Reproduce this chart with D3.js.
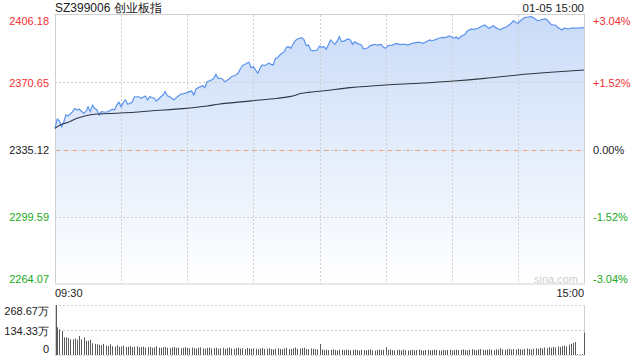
<!DOCTYPE html>
<html>
<head>
<meta charset="utf-8">
<script src="https://cdn.jsdelivr.net/npm/d3@7"></script>
<style>
  body { margin: 0; background: #fff; }
  svg { display: block; font-family: "Liberation Sans", Arial, sans-serif; }
</style>
</head>
<body>
<script>
// 价格线: 分钟序号 (0 = 09:30, 120 = 11:30/13:00, 240 = 15:00) 和点位
const priceMin = [0,1,2,3,4,5,6,8,9,10,11,13,14,15,16,17,18,19,20,21,23,24,26,27,28,29,30,31,32,33,35,36,38,39,41,42,43,45,46,48,49,50,51,52,54,55,57,59,60,62,63,64,65,67,68,69,71,72,73,74,75,76,77,79,80,82,83,84,85,87,88,89,90,92,93,94,95,97,98,99,100,101,102,104,105,106,107,108,109,110,112,113,114,115,116,117,119,120,121,122,123,124,125,127,128,129,130,131,133,134,135,136,137,139,140,142,143,145,146,148,149,150,151,153,155,156,159,160,162,163,165,167,168,170,171,173,174,176,177,179,180,181,182,183,184,186,187,189,190,192,193,195,196,197,198,199,200,202,203,205,206,207,208,209,210,211,213,214,216,217,218,219,220,222,223,224,225,226,227,228,230,231,233,234,236,237,240];
const price = [2346.3,2351.2,2350.2,2347.2,2349.8,2353.4,2352.8,2355.1,2356.9,2356.0,2356.4,2354.3,2355.1,2357.7,2355.1,2358.6,2356.9,2356.0,2353.4,2355.1,2354.8,2355.1,2356.4,2356.0,2358.6,2360.1,2357.7,2360.1,2361.3,2359.0,2360.1,2363.0,2363.0,2362.2,2363.4,2361.3,2363.0,2362.2,2360.7,2363.0,2363.9,2365.7,2363.5,2363.0,2361.3,2362.5,2364.3,2364.8,2365.3,2366.0,2363.9,2367.1,2367.8,2368.8,2367.8,2370.9,2371.8,2372.7,2374.9,2372.7,2372.7,2372.4,2370.9,2372.4,2373.6,2374.5,2375.4,2377.5,2379.4,2380.7,2381.2,2378.3,2378.9,2375.4,2378.0,2379.8,2379.4,2380.7,2380.1,2379.8,2383.3,2383.6,2385.1,2386.8,2389.1,2389.4,2388.6,2390.7,2392.6,2393.5,2394.2,2393.0,2390.0,2390.3,2387.7,2387.2,2387.7,2389.8,2389.1,2389.4,2388.1,2390.3,2393.0,2390.7,2392.4,2394.7,2392.1,2392.4,2393.5,2393.0,2390.7,2392.1,2391.2,2390.3,2388.2,2388.9,2390.0,2390.7,2390.3,2390.7,2389.1,2388.6,2390.0,2390.3,2391.2,2390.7,2390.7,2390.3,2391.2,2391.5,2391.8,2391.2,2391.8,2393.0,2392.6,2393.3,2393.9,2394.4,2394.2,2395.1,2394.4,2393.9,2394.7,2393.5,2394.7,2396.0,2397.7,2398.8,2398.6,2399.2,2400.0,2400.9,2400.0,2399.2,2400.0,2400.5,2399.5,2398.3,2399.2,2400.0,2400.9,2401.8,2403.2,2402.3,2401.8,2403.0,2404.8,2405.0,2405.3,2404.8,2403.9,2403.2,2403.4,2404.1,2403.9,2402.6,2401.3,2400.9,2400.9,2399.7,2398.3,2399.2,2398.8,2399.2,2399.2,2399.2,2399.5];

// 均价线
const avgMin = [0,3,6,10,14,20,28,36,43,58,69,74,89,101,107,112,115,121,134,150,165,181,195,210,225,240];
const avgPrice = [2346.3,2348.4,2349.5,2351.6,2353.0,2353.9,2354.3,2354.8,2355.5,2356.7,2358.1,2359.0,2360.8,2362.2,2363.2,2364.8,2365.3,2366.0,2367.8,2369.2,2370.1,2371.3,2372.7,2374.5,2375.9,2377.1];

// 成交量 (万), 每分钟一根
const volume = [
  268.67,149,138,129,95,95,91,84,84,89,82,102,84,95,77,77,82,63,60,58,
  55,52,60,50,48,58,47,45,52,44,46,50,43,45,48,42,44,47,41,43,
  45,40,42,44,39,41,46,40,38,42,44,39,37,41,43,38,40,36,39,42,
  38,36,40,37,35,39,41,36,34,38,40,35,37,39,34,36,38,33,37,40,
  35,33,37,39,34,36,32,38,35,33,36,34,31,35,37,33,34,36,32,30,
  34,36,33,31,35,38,33,32,36,40,34,35,37,39,33,31,35,34,32,30,
  59,
  30,27,29,26,28,31,27,25,29,28,26,30,27,25,28,29,26,24,28,27,
  25,28,30,26,24,27,29,26,28,42,27,30,26,24,27,28,25,29,26,24,
  26,28,25,27,29,26,24,27,28,25,26,29,27,25,24,28,26,27,29,25,
  27,29,26,28,30,27,25,29,31,28,26,30,32,28,27,29,31,28,26,30,
  29,37,30,28,31,33,29,32,30,34,31,29,33,35,32,30,34,36,33,38,
  35,40,37,42,39,44,41,46,43,48,50,47,55,60,65,70,
  4,3,5,
  120
];

const priceTicks = [2406.18, 2370.65, 2335.12, 2299.59, 2264.07];
const pctTicks = ["+3.04%", "+1.52%", "0.00%", "-1.52%", "-3.04%"];
const volTicks = [268.67, 134.33, 0];
const gridMin = [30, 60, 90, 120, 150, 180, 210];
const preClose = 2335.12;

const W = 640, H = 360;
const pLeft = 55, pRight = 584, pTop = 15, pBottom = 284;
const vTop = 305, vBottom = 355;

const x = d3.scaleLinear().domain([0, 240]).range([pLeft, pRight]);
const y = d3.scaleLinear().domain([2264.07, 2406.18]).range([pBottom, pTop]);
const yv = d3.scaleLinear().domain([0, 268.67]).range([vBottom, vTop]);

const svg = d3.select("body").append("svg").attr("width", W).attr("height", H);

// 渐变
const grad = svg.append("defs").append("linearGradient")
  .attr("id", "fill").attr("gradientUnits", "userSpaceOnUse")
  .attr("x1", 0).attr("y1", pTop).attr("x2", 0).attr("y2", pBottom);
grad.append("stop").attr("offset", 0).attr("stop-color", "#c9dbf8");
grad.append("stop").attr("offset", 1).attr("stop-color", "#ffffff");

const pts = priceMin.map((m, i) => [m, price[i]]);

svg.append("path")
  .datum(pts)
  .attr("fill", "url(#fill)")
  .attr("d", d3.area().x(d => x(d[0])).y0(pBottom).y1(d => y(d[1])));

// 网格
svg.selectAll(".vg").data(gridMin).enter().append("line")
  .attr("x1", d => Math.round(x(d)) + 0.5).attr("x2", d => Math.round(x(d)) + 0.5)
  .attr("y1", pTop).attr("y2", pBottom)
  .attr("stroke", "#cfcfcf").attr("stroke-dasharray", "2,2");

svg.selectAll(".hg").data([priceTicks[1], priceTicks[2], priceTicks[3]]).enter().append("line")
  .attr("x1", pLeft).attr("x2", pRight)
  .attr("y1", d => Math.round(y(d)) + 0.5).attr("y2", d => Math.round(y(d)) + 0.5)
  .attr("stroke", "#cfcfcf").attr("stroke-dasharray", "2,2");

svg.append("line")
  .attr("x1", pLeft).attr("x2", pRight)
  .attr("y1", Math.round(y(preClose)) + 0.5).attr("y2", Math.round(y(preClose)) + 0.5)
  .attr("stroke", "#eea07e").attr("stroke-dasharray", "4,5");

// 边框
svg.append("rect")
  .attr("x", pLeft + 0.5).attr("y", pTop - 0.5)
  .attr("width", pRight - pLeft).attr("height", pBottom - pTop + 0.5)
  .attr("fill", "none").attr("stroke", "#d0d0d0");

// 价格线和均价线
svg.append("path")
  .datum(pts)
  .attr("fill", "none").attr("stroke", "#5b93ee").attr("stroke-width", 1.2)
  .attr("d", d3.line().x(d => x(d[0])).y(d => y(d[1])));

svg.append("path")
  .datum(avgMin.map((m, i) => [m, avgPrice[i]]))
  .attr("fill", "none").attr("stroke", "#2f3644").attr("stroke-width", 1.1)
  .attr("d", d3.line().curve(d3.curveMonotoneX).x(d => x(d[0])).y(d => y(d[1])));

// 左右坐标
const colorOf = i => i < 2 ? "#f23030" : (i === 2 ? "#222" : "#22a822");
const nudge = i => i === 0 ? 5 : (i === 4 ? -6 : 0);

svg.append("g")
  .attr("transform", `translate(${pLeft - 3},0)`)
  .call(d3.axisLeft(y).tickValues(priceTicks).tickSize(0).tickFormat(d3.format(".2f")))
  .call(g => g.select(".domain").remove())
  .call(g => g.selectAll("text")
    .attr("font-size", 11).attr("font-family", "Liberation Sans, Arial")
    .attr("fill", (d, i) => colorOf(i))
    .attr("dy", (d, i) => (nudge(i) + 4) + "px"));

svg.append("g")
  .attr("transform", `translate(${pRight + 6},0)`)
  .call(d3.axisRight(y).tickValues(priceTicks).tickSize(0).tickFormat((d, i) => pctTicks[i]))
  .call(g => g.select(".domain").remove())
  .call(g => g.selectAll("text")
    .attr("font-size", 11).attr("font-family", "Liberation Sans, Arial")
    .attr("fill", (d, i) => colorOf(i))
    .attr("dy", (d, i) => (nudge(i) + 4) + "px"));

// 标题
svg.append("text").attr("x", pLeft).attr("y", 12)
  .attr("font-size", 12).attr("fill", "#222")
  .text("SZ399006 创业板指");
svg.append("text").attr("x", pRight).attr("y", 12)
  .attr("text-anchor", "end").attr("font-size", 11.5).attr("fill", "#222")
  .text("01-05 15:00");

svg.append("text").attr("x", pRight - 6).attr("y", 283)
  .attr("text-anchor", "end").attr("font-size", 11).attr("fill", "#cfcfcf")
  .text("sina.com");

// 时间
svg.append("text").attr("x", pLeft).attr("y", 297)
  .attr("font-size", 11).attr("fill", "#222").text("09:30");
svg.append("text").attr("x", pRight).attr("y", 297)
  .attr("text-anchor", "end").attr("font-size", 11).attr("fill", "#222").text("15:00");

// 成交量
svg.selectAll(".vgl").data(volTicks).enter().append("line")
  .attr("x1", pLeft).attr("x2", pRight)
  .attr("y1", d => Math.round(yv(d)) + 0.5).attr("y2", d => Math.round(yv(d)) + 0.5)
  .attr("stroke", "#cfcfcf").attr("stroke-dasharray", "2,2");

svg.append("line").attr("x1", pLeft + 0.5).attr("x2", pLeft + 0.5)
  .attr("y1", vTop).attr("y2", vBottom).attr("stroke", "#d0d0d0");
svg.append("line").attr("x1", pRight + 0.5).attr("x2", pRight + 0.5)
  .attr("y1", vTop).attr("y2", vBottom).attr("stroke", "#d0d0d0");

svg.selectAll(".bar").data(volume).enter().append("rect")
  .attr("x", (d, i) => Math.round(x(i)) + (i === 0 ? 1 : 0))
  .attr("width", 1)
  .attr("y", d => yv(d))
  .attr("height", d => vBottom - yv(d))
  .attr("fill", "#5a5a5a");

svg.append("g")
  .attr("transform", `translate(${pLeft - 3},0)`)
  .call(d3.axisLeft(yv).tickValues(volTicks).tickSize(0)
    .tickFormat(d => d === 0 ? "0" : d3.format(".2f")(d) + "万"))
  .call(g => g.select(".domain").remove())
  .call(g => g.selectAll("text")
    .attr("font-size", 11).attr("font-family", "Liberation Sans, Arial").attr("fill", "#222")
    .attr("dy", (d, i) => (i === 0 ? 9 : (i === 2 ? -3 : 4)) + "px"));
</script>
</body>
</html>
